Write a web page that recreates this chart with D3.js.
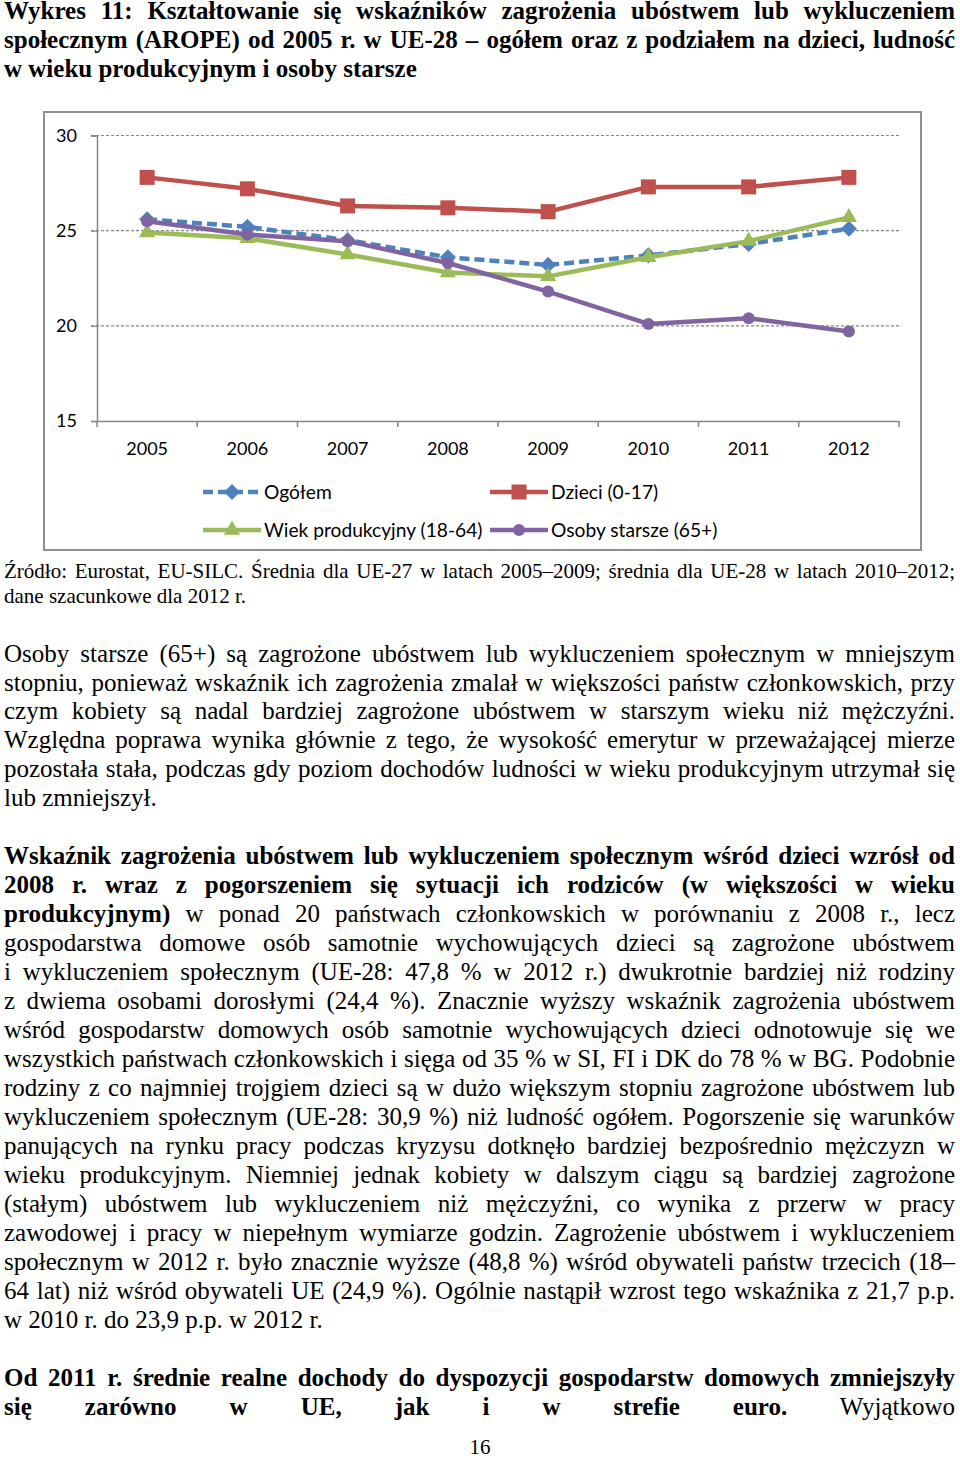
<!DOCTYPE html>
<html><head><meta charset="utf-8">
<script src="https://cdn.jsdelivr.net/npm/d3@7"></script>
<style>
body{margin:0;background:#fff;width:960px;height:1460px;position:relative;overflow:hidden}
svg{position:absolute;left:0;top:0}
.ln{position:absolute;left:4px;white-space:nowrap;font-family:"Liberation Serif","Times New Roman",serif;color:#000}
</style></head><body>
<script>
// ---- data ----
const years = ["2005","2006","2007","2008","2009","2010","2011","2012"];
const ogolem   = [25.6, 25.2, 24.5, 23.6, 23.2, 23.7, 24.3, 25.1];
const dzieci   = [27.8, 27.2, 26.3, 26.2, 26.0, 27.3, 27.3, 27.8];
const wiekProd = [24.9, 24.6, 23.75, 22.8, 22.6, 23.6, 24.45, 25.7];
const starsi   = [25.5, 24.8, 24.45, 23.3, 21.8, 20.1, 20.4, 19.7];
const yTicks = [15, 20, 25, 30];
const seriesNames = ["Ogółem", "Dzieci (0-17)", "Wiek produkcyjny (18-64)", "Osoby starsze (65+)"];

const titleLines = [
  "Wykres 11: Kształtowanie się wskaźników zagrożenia ubóstwem lub wykluczeniem",
  "społecznym (AROPE) od 2005 r. w UE-28 – ogółem oraz z podziałem na dzieci, ludność",
  "w wieku produkcyjnym i osoby starsze"
];
const sourceLines = [
  "Źródło: Eurostat, EU-SILC. Średnia dla UE-27 w latach 2005–2009; średnia dla UE-28 w latach 2010–2012;",
  "dane szacunkowe dla 2012 r."
];
const para1 = [
  "Osoby starsze (65+) są zagrożone ubóstwem lub wykluczeniem społecznym w mniejszym",
  "stopniu, ponieważ wskaźnik ich zagrożenia zmalał w większości państw członkowskich, przy",
  "czym kobiety są nadal bardziej zagrożone ubóstwem w starszym wieku niż mężczyźni.",
  "Względna poprawa wynika głównie z tego, że wysokość emerytur w przeważającej mierze",
  "pozostała stała, podczas gdy poziom dochodów ludności w wieku produkcyjnym utrzymał się",
  "lub zmniejszył."
];
const para2 = [
  "**Wskaźnik zagrożenia ubóstwem lub wykluczeniem społecznym wśród dzieci wzrósł od",
  "**2008 r. wraz z pogorszeniem się sytuacji ich rodziców (w większości w wieku",
  "**produkcyjnym)|| w ponad 20 państwach członkowskich w porównaniu z 2008 r., lecz",
  "gospodarstwa domowe osób samotnie wychowujących dzieci są zagrożone ubóstwem",
  "i wykluczeniem społecznym (UE-28: 47,8 % w 2012 r.) dwukrotnie bardziej niż rodziny",
  "z dwiema osobami dorosłymi (24,4 %). Znacznie wyższy wskaźnik zagrożenia ubóstwem",
  "wśród gospodarstw domowych osób samotnie wychowujących dzieci odnotowuje się we",
  "wszystkich państwach członkowskich i sięga od 35 % w SI, FI i DK do 78 % w BG. Podobnie",
  "rodziny z co najmniej trojgiem dzieci są w dużo większym stopniu zagrożone ubóstwem lub",
  "wykluczeniem społecznym (UE-28: 30,9 %) niż ludność ogółem. Pogorszenie się warunków",
  "panujących na rynku pracy podczas kryzysu dotknęło bardziej bezpośrednio mężczyzn w",
  "wieku produkcyjnym. Niemniej jednak kobiety w dalszym ciągu są bardziej zagrożone",
  "(stałym) ubóstwem lub wykluczeniem niż mężczyźni, co wynika z przerw w pracy",
  "zawodowej i pracy w niepełnym wymiarze godzin. Zagrożenie ubóstwem i wykluczeniem",
  "społecznym w 2012 r. było znacznie wyższe (48,8 %) wśród obywateli państw trzecich (18–",
  "64 lat) niż wśród obywateli UE (24,9 %). Ogólnie nastąpił wzrost tego wskaźnika z 21,7 p.p.",
  "w 2010 r. do 23,9 p.p. w 2012 r."
];
const para3 = [
  "**Od 2011 r. średnie realne dochody do dyspozycji gospodarstw domowych zmniejszyły",
  "**się zarówno w UE, jak i w strefie euro.|| Wyjątkowo"
];
const pageNumber = "16";

// ---- chart ----
const svg = d3.select("body").append("svg").attr("width", 960).attr("height", 560);
const font = "Lato, 'Open Sans', sans-serif";

svg.append("rect").attr("x", 44).attr("y", 112).attr("width", 877).attr("height", 438)
  .attr("fill", "#fff").attr("stroke", "#8f8f8f").attr("stroke-width", 2);

const x = d3.scaleBand().domain(years).range([97, 899]).padding(0);
const y = d3.scaleLinear().domain([15, 30]).range([421, 135.5]);
const cx = d => x(d) + x.bandwidth() / 2;

// gridlines
svg.append("g").selectAll("line").data(yTicks.filter(t => t > 15)).join("line")
  .attr("x1", 91).attr("x2", 899).attr("y1", d => y(d)).attr("y2", d => y(d))
  .attr("stroke", "#868686").attr("stroke-width", 1.2).attr("stroke-dasharray", "3,2");

// y axis
const yAxis = svg.append("g").attr("transform", "translate(97,0)")
  .call(d3.axisLeft(y).tickValues(yTicks).tickSize(6).tickPadding(14).tickFormat(d3.format("d")));
yAxis.select(".domain").attr("stroke", "#868686").attr("stroke-width", 1.5);
yAxis.selectAll(".tick line").attr("stroke", "#868686").attr("stroke-width", 1.2);
yAxis.selectAll("text").attr("font-family", font).attr("font-size", 18).attr("fill", "#000");

// x axis
const xAxis = svg.append("g").attr("transform", "translate(0,421)")
  .call(d3.axisBottom(x).tickSize(0).tickPadding(21).tickSizeOuter(0));
xAxis.select(".domain").attr("stroke", "#868686").attr("stroke-width", 1.5);
xAxis.selectAll("text").attr("font-family", font).attr("font-size", 18).attr("fill", "#000");
const bounds = years.map(d => x(d)).concat([x.range()[1]]);
xAxis.append("g").selectAll("line").data(bounds).join("line")
  .attr("x1", d => d).attr("x2", d => d).attr("y1", 0).attr("y2", 6)
  .attr("stroke", "#868686").attr("stroke-width", 1.5);

const series = [
  {name: seriesNames[0], values: ogolem, color: "#4F81BD", dash: "10,5", marker: "diamond"},
  {name: seriesNames[1], values: dzieci, color: "#C0504D", dash: null, marker: "square"},
  {name: seriesNames[2], values: wiekProd, color: "#9BBB59", dash: null, marker: "triangle"},
  {name: seriesNames[3], values: starsi, color: "#8064A2", dash: null, marker: "circle"}
];
const symbolFor = m => {
  if (m === "diamond") return {p: d3.symbol(d3.symbolSquare, 130)(), rot: 45};
  if (m === "square") return {p: d3.symbol(d3.symbolSquare, 225)(), rot: 0};
  if (m === "triangle") return {p: d3.symbol(d3.symbolTriangle, 115)(), rot: 0};
  return {p: d3.symbol(d3.symbolCircle, 115)(), rot: 0};
};
const line = d3.line().x(d => cx(d.year)).y(d => y(d.v));

series.forEach(s => {
  const pts = years.map((yr, i) => ({year: yr, v: s.values[i]}));
  const g = svg.append("g");
  g.append("path").attr("d", line(pts)).attr("fill", "none").attr("stroke", s.color)
    .attr("stroke-width", 4.5).attr("stroke-dasharray", s.dash).attr("stroke-linejoin", "round");
  const sym = symbolFor(s.marker);
  g.selectAll("path.m").data(pts).join("path").attr("class", "m").attr("d", sym.p)
    .attr("transform", d => `translate(${cx(d.year)},${y(d.v)}) rotate(${sym.rot})`)
    .attr("fill", s.color);
});

// legend
const legPos = [[203, 492], [490, 492], [203, 530], [490, 530]];
series.forEach((s, i) => {
  const [lx, ly] = legPos[i];
  const g = svg.append("g").attr("transform", `translate(${lx},${ly})`);
  g.append("line").attr("x1", 0).attr("x2", 58).attr("y1", 0).attr("y2", 0)
    .attr("stroke", s.color).attr("stroke-width", 4.5).attr("stroke-dasharray", s.dash);
  const sym = symbolFor(s.marker);
  g.append("path").attr("d", sym.p).attr("transform", `translate(29,0) rotate(${sym.rot})`).attr("fill", s.color);
  g.append("text").attr("x", 61).attr("y", 0).attr("dy", "0.35em").attr("font-family", font)
    .attr("font-size", 19.2).attr("fill", "#000").text(s.name);
});

// ---- text ----
const W = 951;
function addLine(str, top, size, lh, justify, allBold) {
  const div = d3.select("body").append("div").attr("class", "ln")
    .style("top", top + "px").style("font-size", size + "px").style("line-height", lh + "px");
  const span = div.append("span");
  let rest = str, bold = !!allBold;
  if (rest.startsWith("**")) { rest = rest.slice(2); bold = true; }
  const parts = rest.split("||");
  parts.forEach((p, i) => {
    span.append("span").style("font-weight", (bold && i === 0) || allBold ? "bold" : "normal").text(p);
  });
  if (justify) {
    const natural = span.node().getBoundingClientRect().width;
    const full = parts.join("");
    const n = (full.match(/ /g) || []).length;
    if (n > 0) div.style("word-spacing", ((W - natural) / n) + "px");
  }
}
titleLines.forEach((t, i) => addLine(t, -3.6 + 29 * i, 25, 29, i < titleLines.length - 1, true));
sourceLines.forEach((t, i) => addLine(t, 559.4 + 25 * i, 21, 25, i < sourceLines.length - 1, false));
para1.forEach((t, i) => addLine(t, 638.6 + 28.9 * i, 25, 29, i < para1.length - 1, false));
para2.forEach((t, i) => addLine(t, 841.4 + 29 * i, 25, 29, i < para2.length - 1, false));
para3.forEach((t, i) => addLine(t, 1363.4 + 29 * i, 25, 29, true, false));
d3.select("body").append("div").attr("class", "ln").style("left", "0px").style("width", "960px")
  .style("text-align", "center").style("top", "1435.4px").style("font-size", "21px")
  .style("line-height", "25px").text(pageNumber);
</script>
</body></html>
